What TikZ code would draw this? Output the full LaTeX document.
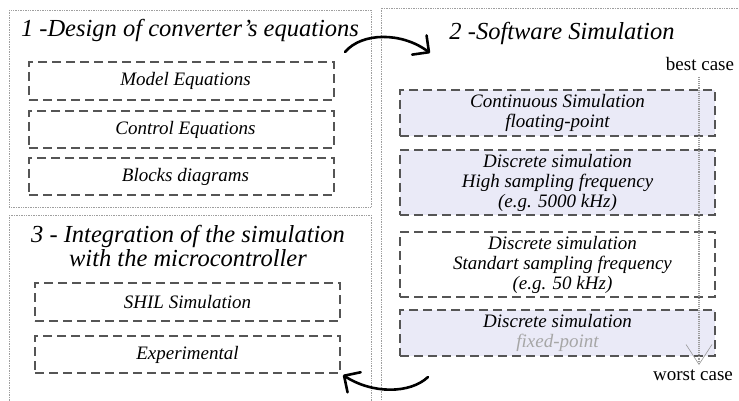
\documentclass[tikz,border=0pt]{standalone}
\usepackage{fontspec}
\setmainfont{Liberation Serif}
\usetikzlibrary{arrows.meta}
\definecolor{lav}{RGB}{234,234,247}
\definecolor{dashgray}{RGB}{85,85,85}
\begin{document}
\begin{tikzpicture}[x=1pt,y=-1pt,
  panel/.style={draw=gray!75, densely dotted, line width=0.7pt},
  dbox/.style={draw=dashgray, dash pattern=on 9pt off 5pt, line width=1.1pt, inner sep=0pt, align=center, font=\fontsize{19}{20}\selectfont\itshape},
  ttl/.style={font=\fontsize{24.5}{22}\selectfont\itshape, align=center, inner sep=0pt},
  side/.style={font=\fontsize{19}{18}\selectfont, inner sep=0pt},
  bigarrow/.style={line width=2.6pt, line cap=round, -{Straight Barb[length=12pt,width=24pt,line cap=round,line join=round]}},
  qualityline/.style={draw=gray!80, line width=1.1pt, densely dotted, -{Straight Barb[length=20pt,width=26pt,line width=0.6pt]}}
]
\useasboundingbox (0,0) rectangle (739,401);
\begin{scope}
\clip (0,0) rectangle (739,401);
% panels
\draw[panel] (9,10) rectangle (371,207);
\draw[panel] (9,215) rectangle (371,410);
\draw[panel] (381,8) rectangle (750,410);
\end{scope}
% titles
\node[ttl] (t1) at (190,30) {1 -Design of converter's equations};
\node[ttl] (t2) at (562,33) {2 -Software Simulation};
\node[ttl] (t3) at (188,246) {3 - Integration of the simulation\\with the microcontroller};
% panel 1 boxes
\node[dbox, minimum width=305pt, minimum height=38pt] (me) at (181.5,81) {\hspace*{8pt}Model Equations};
\node[dbox, minimum width=305pt, minimum height=37pt] (ce) at (181.5,129.5) {\hspace*{8pt}Control Equations};
\node[dbox, minimum width=305pt, minimum height=37pt] (bd) at (181.5,176.5) {\hspace*{8pt}Blocks diagrams};
% panel 3 boxes
\node[dbox, minimum width=305pt, minimum height=38pt] (shil) at (187.5,302) {SHIL Simulation};
\node[dbox, minimum width=305pt, minimum height=37pt] (exp) at (187.5,354.5) {Experimental};
% panel 2 boxes
\node[dbox, fill=lav, minimum width=315pt, minimum height=46pt] (cs) at (557.5,113) {Continuous Simulation\\floating-point};
\node[dbox, fill=lav, minimum width=315pt, minimum height=65pt] (hs) at (557.5,182.5) {Discrete simulation\\High sampling frequency\\(e.g. 5000 kHz)};
\node[dbox, minimum width=315pt, minimum height=65pt] (ss) at (557.5,264.5) {\hspace*{10pt}Discrete simulation\\\hspace*{10pt}Standart sampling frequency\\\hspace*{10pt}(e.g. 50 kHz)};
\node[dbox, fill=lav, minimum width=315pt, minimum height=46pt] (fx) at (557.5,333) {Discrete simulation\\\textcolor{gray!70}{fixed-point}};
% best / worst case
\node[side] (best) at (700,64) {best case};
\node[side] (worst) at (693,375) {worst case};
\coordinate (vs) at (699,77);
\coordinate (ve) at (699,365);
\draw[qualityline] (vs) -- (ve);
% curved arrows
\coordinate (a1s) at (345,52);
\coordinate (a1e) at (430,53);
\draw[bigarrow] (a1s) .. controls (362,32) and (402,32) .. (a1e);
\coordinate (a2s) at (428,377);
\coordinate (a2e) at (343,375);
\draw[bigarrow] (a2s) .. controls (410,394) and (372,394) .. (a2e);
\end{tikzpicture}
\end{document}
